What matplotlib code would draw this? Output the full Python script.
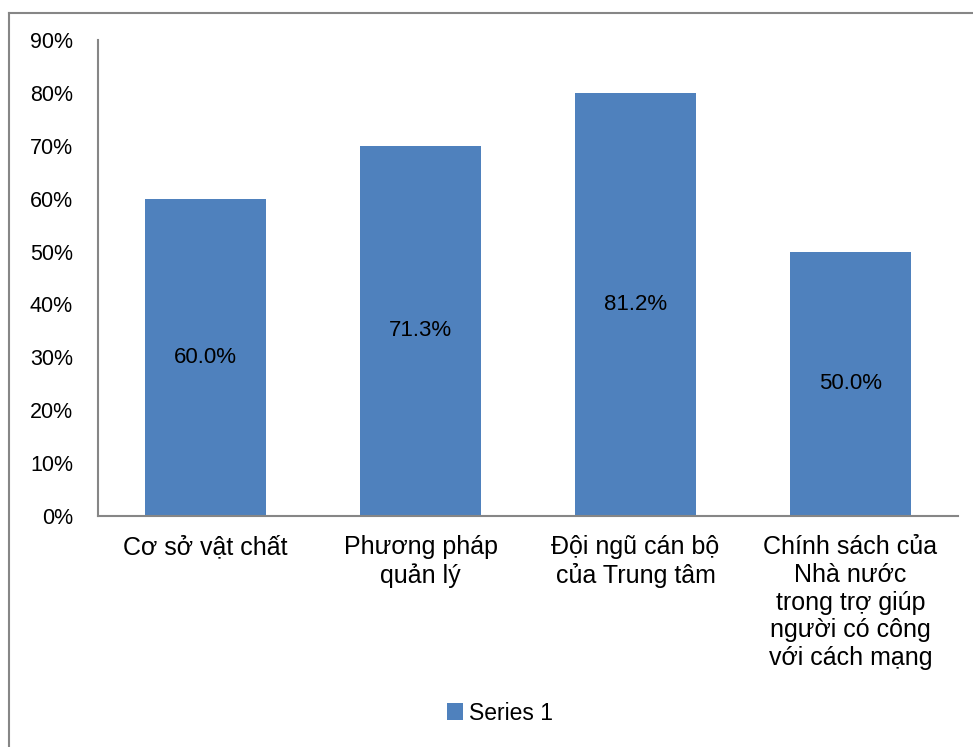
import matplotlib
matplotlib.use("Agg")
import matplotlib.pyplot as plt
from matplotlib.patches import Patch
from matplotlib.lines import Line2D

plt.rcParams['font.family'] = ['Liberation Sans', 'DejaVu Sans']

categories = [
    "Cơ sở vật chất",
    "Phương pháp\nquản lý",
    "Đội ngũ cán bộ\ncủa Trung tâm",
    "Chính sách của\nNhà nước\ntrong trợ giúp\nngười có công\nvới cách mạng",
]
values = [60, 70, 80, 50]
value_labels = ["60.0%", "71.3%", "81.2%", "50.0%"]
yticks = [0, 10, 20, 30, 40, 50, 60, 70, 80, 90]
series_name = "Series 1"
bar_color = "#4F81BD"

W, H = 973, 747
fig = plt.figure(figsize=(W / 100, H / 100), dpi=100)
ax = fig.add_axes([98 / W, (H - 516) / H, 860 / W, 476 / H])

x = list(range(len(categories)))
ax.bar(x, values, width=0.5625, color=bar_color, zorder=2)
for xi, v, lab in zip(x, values, value_labels):
    ax.text(xi, v / 2, lab, ha='center', va='center', fontsize=16, color='black')

ax.set_xlim(-0.5, len(categories) - 0.5)
ax.set_ylim(0, 90)
ax.set_yticks(yticks)
ax.set_yticklabels([f"{t}%" for t in yticks], fontsize=15.5)
ax.set_xticks(x)
ax.set_xticklabels(categories, fontsize=18, linespacing=1.19, va='top')
ax.tick_params(axis='both', length=0)
ax.tick_params(axis='y', pad=18)
ax.tick_params(axis='x', pad=14)
for s in ['top', 'right']:
    ax.spines[s].set_visible(False)
for s in ['left', 'bottom']:
    ax.spines[s].set_color('#868686')
    ax.spines[s].set_linewidth(1.5)

# chart frame
fig.add_artist(Line2D([9 / W, 9 / W], [0, (H - 13) / H], color='#868686', lw=1.5))
fig.add_artist(Line2D([9 / W, 1], [(H - 13) / H, (H - 13) / H], color='#868686', lw=1.5))

handle = Patch(facecolor=bar_color, edgecolor='none')
fig.legend([handle], [series_name], loc='center', bbox_to_anchor=(500 / W, (H - 713) / H),
           frameon=False, fontsize=16.5, handlelength=0.7, handleheight=0.7, handletextpad=0.3)

fig.savefig("out.png", dpi=100)
